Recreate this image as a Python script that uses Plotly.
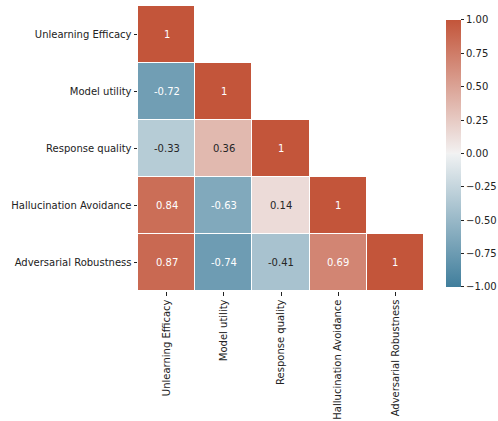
import math
import plotly.graph_objects as go

labels = ["Unlearning Efficacy", "Model utility", "Response quality",
          "Hallucination Avoidance", "Adversarial Robustness"]
corr = [
    [1.00, None, None, None, None],
    [-0.72, 1.00, None, None, None],
    [-0.33, 0.36, 1.00, None, None],
    [0.84, -0.63, 0.14, 1.00, None],
    [0.87, -0.74, -0.41, 0.69, 1.00],
]
cbar_vals = [-1.0, -0.75, -0.5, -0.25, 0.0, 0.25, 0.5, 0.75, 1.0]

# ---- HUSL -> RGB (to mimic seaborn diverging_palette(230, 20)) ----
M = [[3.240969941904521, -1.537383177570093, -0.498610760293],
     [-0.96924363628087, 1.87596750150772, 0.041555057407175],
     [0.055630079696993, -0.20397695888897, 1.056971514242878]]
KAPPA = 903.2962962
EPS = 0.0088564516
REFU, REFV = 0.19783000664283, 0.46831999493879

def max_chroma(L, H):
    hrad = math.radians(H)
    sub1 = (L + 16) ** 3 / 1560896
    sub2 = sub1 if sub1 > EPS else L / KAPPA
    best = float("inf")
    for m1, m2, m3 in M:
        for t in (0, 1):
            top1 = (284517 * m1 - 94839 * m3) * sub2
            top2 = (838422 * m3 + 769860 * m2 + 731718 * m1) * L * sub2 - 769860 * t * L
            bottom = (632260 * m3 - 126452 * m2) * sub2 + 126452 * t
            slope, inter = top1 / bottom, top2 / bottom
            length = inter / (math.sin(hrad) - slope * math.cos(hrad))
            if length >= 0:
                best = min(best, length)
    return best

def husl_to_rgb(H, S, L):
    C = max_chroma(L, H) / 100 * S
    u = C * math.cos(math.radians(H))
    v = C * math.sin(math.radians(H))
    Y = L / KAPPA if L <= 8 else ((L + 16) / 116) ** 3
    vu = u / (13 * L) + REFU
    vv = v / (13 * L) + REFV
    X = -(9 * Y * vu) / ((vu - 4) * vv - vu * vv)
    Z = (9 * Y - 15 * vv * Y - vv * X) / (3 * vv)
    out = []
    for r in M:
        c = r[0] * X + r[1] * Y + r[2] * Z
        c = 12.92 * c if c <= 0.0031308 else 1.055 * c ** (1 / 2.4) - 0.055
        out.append(min(1, max(0, c)))
    return out

blue = husl_to_rgb(230, 75, 50)
blue_l = husl_to_rgb(230, 75 * 0.15, 95)
mid = [0.95, 0.95, 0.95]
red_l = husl_to_rgb(20, 75 * 0.15, 95)
red = husl_to_rgb(20, 75, 50)
stops = [(0.0, blue), (127 / 256, blue_l), (128 / 256, mid), (129 / 256, red_l), (1.0, red)]

def css(c):
    return "rgb(%d,%d,%d)" % tuple(round(x * 255) for x in c)

colorscale = [[p, css(c)] for p, c in stops]

def cmap(v):
    p = (v + 1) / 2
    for (p0, c0), (p1, c1) in zip(stops[:-1], stops[1:]):
        if p <= p1:
            f = (p - p0) / (p1 - p0) if p1 > p0 else 0
            return [a + (b - a) * f for a, b in zip(c0, c1)]
    return stops[-1][1]

def lum(c):
    lin = [x / 12.92 if x <= 0.03928 else ((x + 0.055) / 1.055) ** 2.4 for x in c]
    return 0.2126 * lin[0] + 0.7152 * lin[1] + 0.0722 * lin[2]

FONT = "DejaVu Sans"
FS = 10
fig = go.Figure(go.Heatmap(
    z=corr, x=labels, y=labels, zmin=-1, zmax=1,
    colorscale=colorscale, xgap=1, ygap=1, hoverongaps=False,
    colorbar=dict(
        thickness=15, lenmode="pixels", len=267, xpad=0, ypad=0,
        x=1.077, xanchor="left", y=0.951, yanchor="top",
        outlinewidth=0, ticks="outside", ticklen=3.5, tickwidth=0.8,
        tickcolor="#222", tickvals=cbar_vals,
        ticktext=[("%.2f" % v).replace("-", "\u2212") for v in cbar_vals],
        tickfont=dict(family=FONT, size=FS, color="#222"),
    ),
))

annotations = []
for i, row in enumerate(corr):
    for j, v in enumerate(row):
        if v is None:
            continue
        col = "#262626" if lum(cmap(v)) > 0.408 else "white"
        annotations.append(dict(
            x=labels[j], y=labels[i], xref="x", yref="y", text=f"{v:.2g}",
            showarrow=False, font=dict(family=FONT, size=FS, color=col)))

fig.update_layout(
    width=498, height=421,
    margin=dict(l=138, r=74, t=6, b=130, autoexpand=False),
    plot_bgcolor="white", paper_bgcolor="white",
    annotations=annotations,
    xaxis=dict(tickangle=-90, ticks="outside", ticklen=3.5, tickwidth=0.8,
               tickcolor="#222", showgrid=False, zeroline=False, automargin=False,
               tickfont=dict(family=FONT, size=FS, color="#222")),
    yaxis=dict(autorange="reversed", ticks="outside", ticklen=3.5, tickwidth=0.8,
               tickcolor="#222", showgrid=False, zeroline=False, automargin=False,
               tickfont=dict(family=FONT, size=FS, color="#222")),
)
fig.write_html("out.html")
